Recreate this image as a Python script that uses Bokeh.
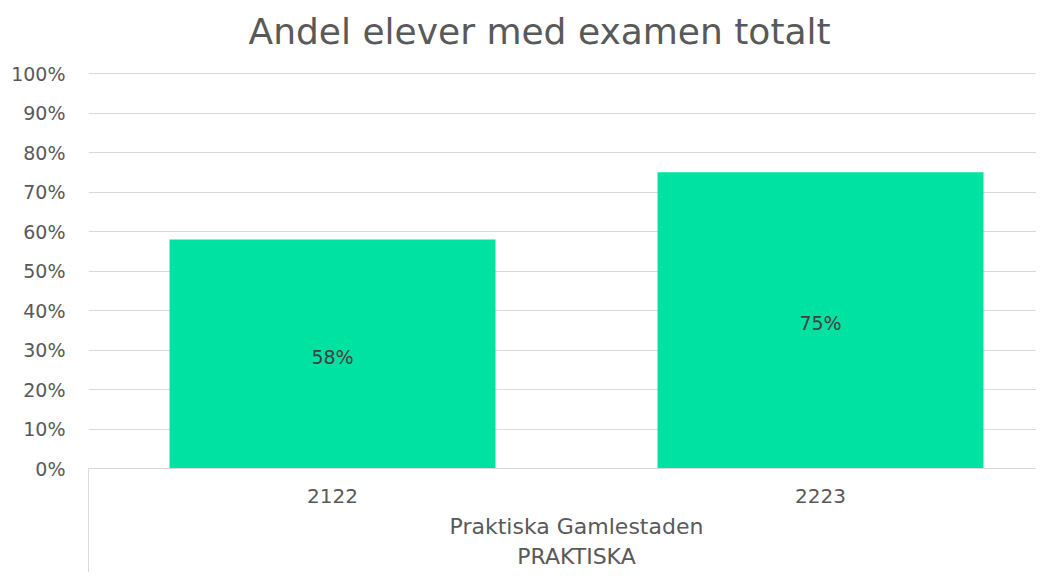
from bokeh.plotting import figure
from bokeh.models import (LinearAxis, FixedTicker, CustomJSTickFormatter, Range1d,
                          ColumnDataSource, LabelSet, NumeralTickFormatter)
from bokeh.core.properties import value
from bokeh.embed import file_html
from bokeh.resources import INLINE

# ---- data ----
title_text = "Andel elever med examen totalt"
categories = ["2122", "2223"]
values = [0.58, 0.75]
group_label = "Praktiska Gamlestaden"
top_label = "PRAKTISKA"
y_ticks = [0.0, 0.1, 0.2, 0.3, 0.4, 0.5, 0.6, 0.7, 0.8, 0.9, 1.0]

FONT = "DejaVu Sans"
TXT = "#595959"
GRID = "#d9d9d9"
BAR = "#00E2A2"

xs = [i + 0.5 for i in range(len(categories))]
src = ColumnDataSource(dict(
    x=xs,
    value=values,
    mid=[v / 2 for v in values],
    label=["{:.0f}%".format(v * 100) for v in values],
))

p = figure(width=1036, height=572, output_backend="svg", toolbar_location=None,
           x_range=Range1d(0, (1036 - 88) / 488), y_range=Range1d(0, 1 + 17 / 395),
           x_axis_type=None, min_border_left=88, min_border_right=0,
           min_border_top=56, min_border_bottom=104)
p.outline_line_color = None
p.background_fill_color = "white"
p.border_fill_color = "white"

# title
p.title.text = title_text
p.title.align = "left"
p.title.offset = 160
p.title.text_font = FONT
p.title.text_font_size = "36px"
p.title.text_font_style = "normal"
p.title.text_color = TXT

# y axis
ya = p.yaxis[0]
ya.ticker = FixedTicker(ticks=y_ticks)
ya.formatter = NumeralTickFormatter(format="0%")
ya.axis_line_color = None
ya.major_tick_line_color = None
ya.major_tick_out = 0
ya.major_tick_in = 0
ya.minor_tick_line_color = None
ya.major_label_standoff = 23
ya.major_label_text_font = FONT
ya.major_label_text_font_size = "19px"
ya.major_label_text_color = TXT

p.ygrid.ticker = FixedTicker(ticks=y_ticks)
p.ygrid.grid_line_color = GRID
p.ygrid.grid_line_width = 1

# bars
p.vbar(x="x", top="value", width=0.668, source=src, fill_color=BAR, line_color=None)

labels = LabelSet(x="x", y="mid", text="label", source=src, text_align="center",
                  text_baseline="middle", text_font=value(FONT), text_font_size=value("19px"),
                  text_color="#404040", y_offset=-3)
p.add_layout(labels)

# baseline axis carrying the left separator line (tick drawn outward via negative tick_in)
axl = LinearAxis(ticker=FixedTicker(ticks=[0]),
                 formatter=CustomJSTickFormatter(code="return ''"))
axl.axis_line_color = GRID
axl.major_tick_out = 0
axl.major_tick_in = -110
axl.major_tick_line_color = GRID
axl.minor_tick_line_color = None
axl.major_label_standoff = 0
axl.major_label_text_font_size = "1px"

def cat_axis(ticks, fmt_args, code, standoff, size):
    ax = LinearAxis(ticker=FixedTicker(ticks=ticks),
                    formatter=CustomJSTickFormatter(args=fmt_args, code=code))
    ax.axis_line_color = None
    ax.major_tick_line_color = None
    ax.major_tick_out = 0
    ax.major_tick_in = 0
    ax.minor_tick_line_color = None
    ax.major_label_standoff = standoff
    ax.major_label_text_font = FONT
    ax.major_label_text_font_size = size
    ax.major_label_text_color = TXT
    return ax

ax1 = cat_axis(xs, dict(labels=categories), "return labels[index]", 20, "20px")
ax2 = cat_axis([len(categories) / 2], dict(name=group_label), "return name", 8, "22px")
ax3 = cat_axis([len(categories) / 2], dict(name=top_label), "return name", 2, "22px")

for a in (axl, ax1, ax2, ax3):
    p.add_layout(a, "below")

open("out.html", "w").write(file_html(p, INLINE))
